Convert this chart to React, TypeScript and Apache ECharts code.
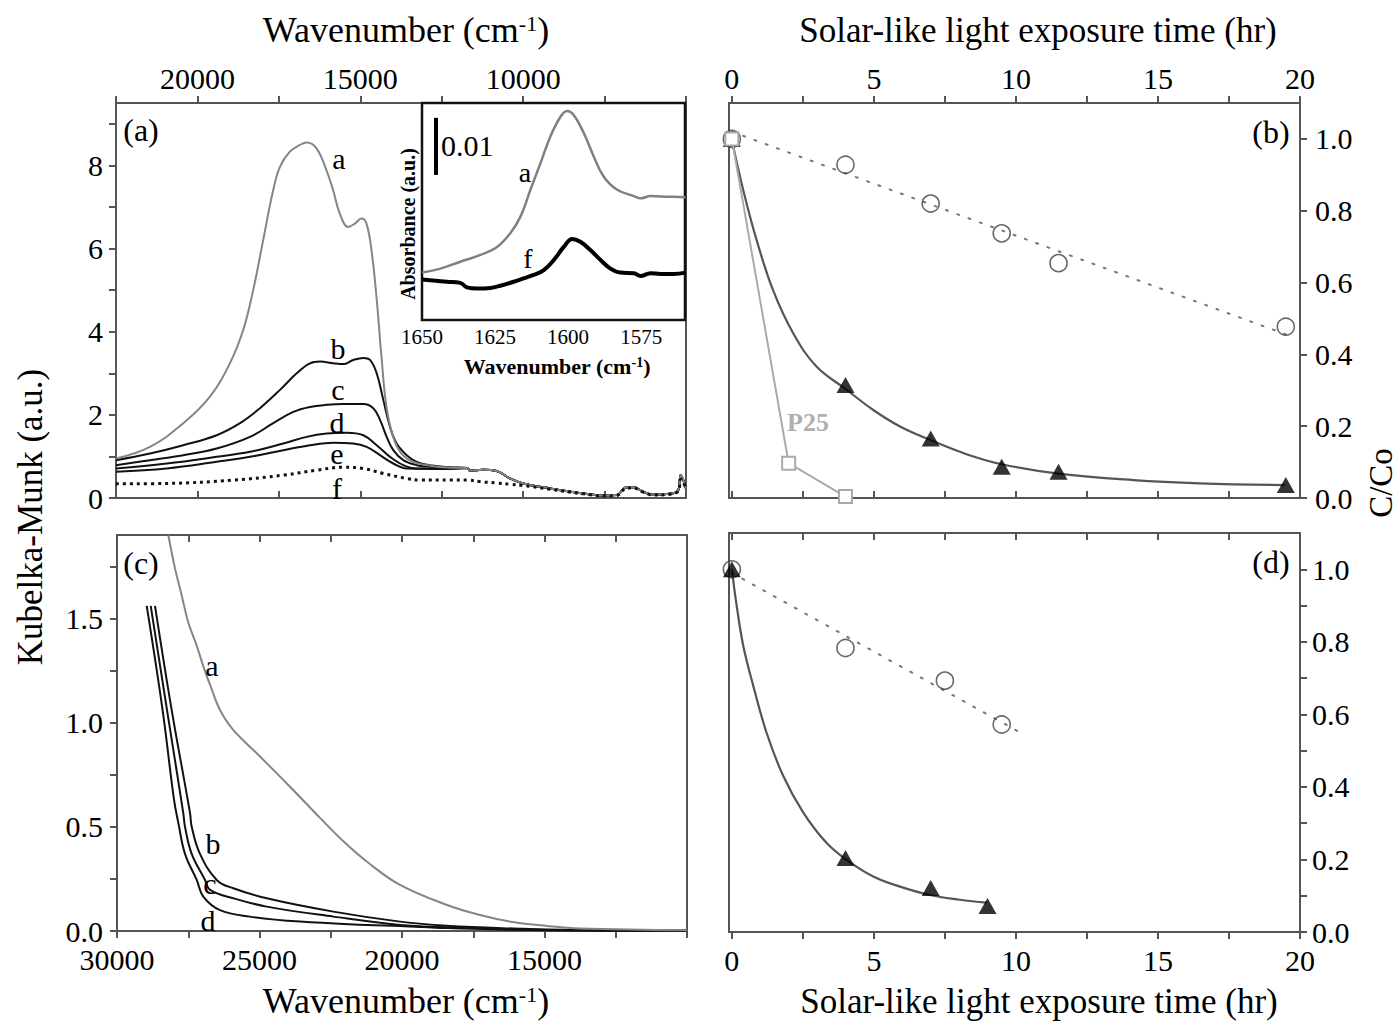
import React, { useEffect, useRef } from 'react';
import * as echarts from 'echarts';

const FONT = 'Liberation Serif';
const AX = '#555';

// ---------- Panel (a): Kubelka-Munk vs wavenumber (cm-1) ----------
const tailCommon = [[11700, 0.72], [11650, 0.66], [11224, 0.68], [10813, 0.65], [10404, 0.47], [9996, 0.35], [9176, 0.23], [8154, 0.11], [7488, 0.06], [7129, 0.07], [6822, 0.26], [6619, 0.26], [6312, 0.15], [6005, 0.08], [5492, 0.10], [5237, 0.19], [5164, 0.55], [5084, 0.43], [5000, 0.22]];
const specA = [[22500, 0.95], [21456, 1.23], [20434, 1.80], [19616, 2.44], [19003, 3.24], [18595, 4.04], [18288, 5.0], [17982, 6.2], [17675, 7.4], [17470, 7.96], [17163, 8.33], [16856, 8.49], [16650, 8.55], [16344, 8.41], [16037, 7.88], [15833, 7.40], [15629, 6.84], [15373, 6.52], [15168, 6.60], [14963, 6.72], [14810, 6.60], [14656, 5.96], [14503, 4.84], [14350, 3.40], [14196, 2.19], [13992, 1.47], [13736, 1.07], [13380, 0.87], [12800, 0.77], [12246, 0.73]];
const specB = [[22500, 0.91], [21456, 1.07], [20434, 1.27], [19409, 1.51], [18693, 1.80], [18079, 2.16], [17465, 2.60], [16953, 3.00], [16544, 3.24], [16237, 3.28], [15829, 3.24], [15522, 3.22], [15215, 3.32], [14908, 3.37], [14702, 3.32], [14497, 3.0], [14294, 2.36], [14088, 1.71], [13883, 1.31], [13576, 1.03], [13269, 0.87], [12800, 0.78], [12246, 0.74]];
const specC = [[22500, 0.79], [21456, 0.91], [20434, 1.03], [19409, 1.19], [18386, 1.47], [17671, 1.80], [17057, 2.07], [16544, 2.19], [16032, 2.24], [15522, 2.26], [14908, 2.26], [14601, 2.16], [14395, 1.88], [14190, 1.47], [13987, 1.15], [13680, 0.91], [13269, 0.79], [12800, 0.75], [12246, 0.73]];
const specD = [[22500, 0.71], [20944, 0.83], [19409, 0.99], [18386, 1.11], [17364, 1.31], [16646, 1.47], [16032, 1.55], [15417, 1.57], [14908, 1.51], [14497, 1.27], [14088, 0.99], [13680, 0.79], [13269, 0.71], [12246, 0.71]];
const specE = [[22500, 0.63], [20944, 0.71], [19409, 0.87], [18386, 0.99], [17364, 1.15], [16544, 1.27], [15829, 1.33], [15215, 1.31], [14804, 1.23], [14395, 1.03], [13987, 0.83], [13576, 0.71], [12246, 0.70]];
const specF = [[22500, 0.34], [20944, 0.35], [18899, 0.43], [17364, 0.55], [16339, 0.67], [15522, 0.74], [14908, 0.71], [14294, 0.59], [13576, 0.47], [13167, 0.43], [12246, 0.43], [11700, 0.43], [11300, 0.39], [10800, 0.36], [10404, 0.33], [9996, 0.30], [9176, 0.21], [8154, 0.10], [7488, 0.05], [7129, 0.06], [6822, 0.24], [6619, 0.24], [6312, 0.14], [6005, 0.07], [5492, 0.09], [5237, 0.17], [5164, 0.45], [5084, 0.38], [5000, 0.2]];

// ---------- Inset: absorbance (x1000) vs wavenumber ----------
const insetA = [[1650, 8.3], [1643.7, 9.0], [1636.9, 10.2], [1630, 11.4], [1624.3, 12.8], [1619.8, 15.2], [1616.3, 18.1], [1612.9, 22.8], [1609.5, 27.4], [1606.1, 32.1], [1602.6, 35.6], [1600.3, 36.6], [1598.1, 35.9], [1594.6, 32.7], [1591.2, 28.6], [1587.8, 25.1], [1583.2, 22.8], [1577.5, 21.7], [1575.2, 21.3], [1571.8, 21.7], [1566.1, 21.6], [1559.8, 21.5]];
const insetF = [[1650, 7.1], [1646, 6.9], [1641.4, 6.7], [1636.9, 6.5], [1634.6, 5.7], [1631.2, 5.5], [1626.6, 5.6], [1623.2, 6.0], [1618.6, 6.7], [1615.2, 7.3], [1611.8, 7.9], [1608.3, 8.75], [1604.9, 10.5], [1601.5, 12.8], [1598.6, 14.2], [1595.8, 13.7], [1592.4, 12.25], [1588.9, 10.5], [1585.5, 9.0], [1582.1, 8.3], [1577.5, 8.2], [1575.2, 7.7], [1571.8, 8.2], [1568.4, 8.05], [1563.8, 8.05], [1559.8, 8.3]];
const insetScaleBar = [[1645.2, 25.4], [1645.2, 35.4]];

// ---------- Panel (c): Kubelka-Munk vs wavenumber ----------
const specCa = [[28200, 1.9], [27965, 1.74], [27730, 1.61], [27498, 1.48], [27205, 1.37], [26970, 1.27], [26677, 1.16], [26386, 1.06], [25930, 0.966], [24982, 0.837], [23930, 0.692], [22877, 0.543], [22000, 0.423], [21227, 0.332], [20070, 0.221], [18420, 0.125], [17262, 0.077], [16104, 0.043], [14911, 0.024], [13753, 0.012], [10000, 0.004]];
const specCb = [[28667, 1.56], [28081, 1.06], [27438, 0.566], [27379, 0.50], [27088, 0.37], [26502, 0.245], [25919, 0.205], [24747, 0.157], [22410, 0.093], [20070, 0.045], [18431, 0.025], [16094, 0.012], [13753, 0.005], [10009, 0.002]];
const specCc = [[28817, 1.56], [28245, 1.06], [27674, 0.566], [27614, 0.50], [27379, 0.37], [26912, 0.245], [26737, 0.197], [25919, 0.157], [24747, 0.117], [22410, 0.069], [20070, 0.029], [18431, 0.018], [16094, 0.008], [13753, 0.003], [10009, 0.001]];
const specCd = [[28958, 1.56], [28400, 1.06], [28000, 0.63], [27849, 0.52], [27614, 0.37], [27203, 0.245], [26972, 0.165], [26386, 0.10], [25333, 0.069], [23579, 0.045], [21238, 0.029], [20070, 0.024], [18431, 0.014], [16094, 0.006], [13753, 0.002], [10009, 0.001]];

// ---------- Panel (b): C/Co vs time (hr) ----------
const circlesB = [[0, 1.0], [4, 0.928], [7, 0.82], [9.5, 0.737], [11.5, 0.654], [19.5, 0.477]];
const circFitB = [[0, 1.02], [19.7, 0.45]];
const trianglesB = [[0, 1.0], [4, 0.315], [7, 0.166], [9.5, 0.087], [11.5, 0.073], [19.5, 0.036]];
const triFitB = [[0, 0.997], [0.40, 0.858], [0.87, 0.719], [1.45, 0.579], [2.16, 0.459], [2.98, 0.366], [3.98, 0.305], [4.98, 0.245], [5.92, 0.199], [6.97, 0.162], [8.26, 0.122], [9.5, 0.094], [11.49, 0.068], [14.13, 0.050], [16.48, 0.041], [19.47, 0.036]];
const p25 = [[0, 1.0], [2, 0.097], [4, 0.004]];

// ---------- Panel (d): C/Co vs time (hr) ----------
const circlesD = [[0, 1.0], [4, 0.783], [7.5, 0.693], [9.5, 0.572]];
const circFitD = [[0, 0.99], [10.15, 0.55]];
const trianglesD = [[0, 1.0], [4, 0.204], [7, 0.121], [9, 0.072]];
const triFitD = [[0, 1.0], [0.17, 0.90], [0.40, 0.79], [0.75, 0.68], [1.22, 0.55], [1.81, 0.43], [2.51, 0.33], [3.33, 0.246], [4.04, 0.199], [4.98, 0.153], [5.92, 0.125], [6.97, 0.102], [8.03, 0.089], [8.97, 0.081]];

// ---------- Tick values ----------
const wnTopTicks = [22500, 20000, 17500, 15000, 12500, 10000, 7500, 5000];
const wnTopLabels = [20000, 15000, 10000];
const kmATicks = [0, 1, 2, 3, 4, 5, 6, 7, 8, 9];
const kmALabels = [0, 2, 4, 6, 8];
const wnBotTicks = [30000, 27500, 25000, 22500, 20000, 17500, 15000, 12500, 10000];
const wnBotLabels = [30000, 25000, 20000, 15000];
const kmCTicks = [0, 0.25, 0.5, 0.75, 1, 1.25, 1.5, 1.75];
const kmCLabels = [0, 0.5, 1, 1.5];
const timeTicks = [0, 2.5, 5, 7.5, 10, 12.5, 15, 17.5, 20];
const timeLabels = [0, 5, 10, 15, 20];
const ccTicksB = [0, 0.2, 0.4, 0.6, 0.8, 1.0];
const ccTicksD = [0, 0.1, 0.2, 0.3, 0.4, 0.5, 0.6, 0.7, 0.8, 0.9, 1.0];
const ccLabels = [0, 0.2, 0.4, 0.6, 0.8, 1.0];
const insetTicks = [1650, 1637.5, 1625, 1612.5, 1600, 1587.5, 1575, 1562.5];
const insetLabels = [1650, 1625, 1600, 1575];

type AxOpt = {
  grid: number; pos: string; min: number; max: number; inverse?: boolean;
  ticks?: number[]; inside?: boolean; labels?: number[]; fmt?: (v: number) => string;
  margin?: number; line?: boolean; color?: string; tickLen?: number; fontSize?: number; lineWidth?: number;
};

function axis(o: AxOpt) {
  const color = o.color || AX;
  return {
    type: 'value', gridIndex: o.grid, position: o.pos, min: o.min, max: o.max, inverse: !!o.inverse,
    splitLine: { show: false },
    axisLine: { show: o.line !== false, onZero: false, lineStyle: { color, width: o.lineWidth || 2 } },
    axisTick: o.ticks
      ? { show: true, inside: !!o.inside, length: o.tickLen || 7, customValues: o.ticks, lineStyle: { color, width: 2 } }
      : { show: false },
    axisLabel: o.labels
      ? { show: true, customValues: o.labels, margin: o.margin ?? 10, color: '#000', fontSize: o.fontSize || 30, fontFamily: FONT, formatter: o.fmt || ((v: number) => String(v)) }
      : { show: false },
  };
}

const fix1 = (v: number) => v.toFixed(1);

function txt(x: number, y: number, text: string, fontSize: number, extra: any = {}, rotation = 0) {
  return {
    type: 'text', x, y, z: 100, rotation,
    style: { text, fontSize, fontFamily: FONT, fill: '#000', align: 'center', verticalAlign: 'middle', ...extra },
  };
}

function richTitle(x: number, y: number, main: number, sup: number, bold = false) {
  const w = bold ? 'bold' : 'normal';
  return {
    type: 'text', x, y, z: 100,
    style: {
      text: '{m|Wavenumber (cm}{s|-1}{m|)}', align: 'center', verticalAlign: 'middle',
      rich: {
        m: { fontSize: main, fontFamily: FONT, fontWeight: w, fill: '#000', lineHeight: main },
        s: { fontSize: sup, fontFamily: FONT, fontWeight: w, fill: '#000', lineHeight: sup, verticalAlign: 'top' },
      },
    },
  };
}

function lineS(xi: number, data: number[][], color: string, width: number, extra: any = {}) {
  return {
    type: 'line', xAxisIndex: xi, yAxisIndex: xi, data, showSymbol: false, symbol: 'none',
    smooth: 0.4, lineStyle: { color, width }, z: 2, ...extra,
  };
}

export default function App() {
  const ref = useRef<HTMLDivElement>(null);
  useEffect(() => {
    document.body.style.margin = '0';
    const chart = echarts.init(ref.current!, undefined, { renderer: 'svg' });
    const option: any = {
      animation: false,
      backgroundColor: '#fff',
      textStyle: { fontFamily: FONT },
      grid: [
        { left: 116, top: 103, width: 570, height: 395 },
        { left: 117, top: 535, width: 570, height: 396 },
        { left: 729, top: 103, width: 571, height: 395 },
        { left: 729, top: 533, width: 571, height: 399 },
        { left: 422, top: 103, width: 263, height: 217, show: true, backgroundColor: '#fff', borderColor: '#111', borderWidth: 2.5, z: 3 },
      ],
      xAxis: [
        axis({ grid: 0, pos: 'top', min: 5000, max: 22500, inverse: true, ticks: wnTopTicks, labels: wnTopLabels, margin: 10 }),
        axis({ grid: 0, pos: 'bottom', min: 5000, max: 22500, inverse: true, ticks: wnTopTicks, inside: true }),
        axis({ grid: 1, pos: 'bottom', min: 10000, max: 30000, inverse: true, ticks: wnBotTicks, labels: wnBotLabels, margin: 13 }),
        axis({ grid: 1, pos: 'top', min: 10000, max: 30000, inverse: true, ticks: wnBotTicks, inside: true }),
        axis({ grid: 2, pos: 'top', min: -0.1, max: 20, ticks: timeTicks, labels: timeLabels, margin: 10 }),
        axis({ grid: 2, pos: 'bottom', min: -0.1, max: 20, ticks: timeTicks, inside: true }),
        axis({ grid: 3, pos: 'bottom', min: -0.1, max: 20, ticks: timeTicks, labels: timeLabels, margin: 13 }),
        axis({ grid: 3, pos: 'top', min: -0.1, max: 20, ticks: timeTicks, inside: true }),
        axis({ grid: 4, pos: 'bottom', min: 1560, max: 1650, inverse: true, ticks: insetTicks, inside: true, labels: insetLabels, margin: 6, line: false, color: '#111', tickLen: 6, fontSize: 21 }),
      ],
      yAxis: [
        axis({ grid: 0, pos: 'left', min: 0, max: 9.5, ticks: kmATicks, labels: kmALabels, margin: 13 }),
        axis({ grid: 0, pos: 'right', min: 0, max: 9.5 }),
        axis({ grid: 1, pos: 'left', min: 0, max: 1.9, ticks: kmCTicks, labels: kmCLabels, margin: 14, fmt: fix1 }),
        axis({ grid: 1, pos: 'right', min: 0, max: 1.9 }),
        axis({ grid: 2, pos: 'right', min: 0, max: 1.1, ticks: ccTicksB, labels: ccLabels, margin: 15, fmt: fix1 }),
        axis({ grid: 2, pos: 'left', min: 0, max: 1.1 }),
        axis({ grid: 3, pos: 'right', min: 0, max: 1.1, ticks: ccTicksD, labels: ccLabels, margin: 12, fmt: fix1 }),
        axis({ grid: 3, pos: 'left', min: 0, max: 1.1 }),
        axis({ grid: 4, pos: 'left', min: 0, max: 38, line: false }),
      ],
      series: [
        // (a)
        lineS(0, specE.concat(tailCommon), '#111', 2),
        lineS(0, specD.concat(tailCommon), '#111', 2),
        lineS(0, specC.concat(tailCommon), '#111', 2),
        lineS(0, specB.concat(tailCommon), '#111', 2),
        lineS(0, specA.concat(tailCommon), '#858585', 2),
        lineS(0, specF, '#111', 3, { lineStyle: { color: '#111', width: 3, type: [3, 4] } }),
        // inset
        lineS(8, insetA, '#808080', 2.5, { z: 5 }),
        lineS(8, insetF, '#000', 4, { z: 5 }),
        lineS(8, insetScaleBar, '#000', 4, { smooth: false, z: 5 }),
        // (c)
        lineS(2, specCd, '#111', 2),
        lineS(2, specCc, '#111', 2),
        lineS(2, specCb, '#111', 2),
        lineS(2, specCa, '#858585', 2),
        // (b)
        lineS(4, circFitB, '#777', 2, { smooth: false, lineStyle: { color: '#777', width: 2, type: [2, 10], cap: 'round' } }),
        lineS(4, triFitB, '#555', 2.2),
        { type: 'scatter', xAxisIndex: 4, yAxisIndex: 4, data: circlesB, symbol: 'circle', symbolSize: 17, itemStyle: { color: 'rgba(0,0,0,0)', borderColor: '#444', borderWidth: 1.6 }, z: 4 },
        { type: 'scatter', xAxisIndex: 4, yAxisIndex: 4, data: trianglesB, symbol: 'triangle', symbolSize: [18, 16], itemStyle: { color: '#000' }, z: 4 },
        { type: 'line', xAxisIndex: 4, yAxisIndex: 4, data: p25, symbol: 'rect', symbolSize: 13, showSymbol: true, lineStyle: { color: '#aaa', width: 2 }, itemStyle: { color: '#fff', borderColor: '#aaa', borderWidth: 2 }, z: 5 },
        // (d)
        lineS(6, circFitD, '#777', 2, { smooth: false, lineStyle: { color: '#777', width: 2, type: [2, 10], cap: 'round' } }),
        lineS(6, triFitD, '#555', 2.2),
        { type: 'scatter', xAxisIndex: 6, yAxisIndex: 6, data: circlesD, symbol: 'circle', symbolSize: 17, itemStyle: { color: 'rgba(0,0,0,0)', borderColor: '#444', borderWidth: 1.6 }, z: 4 },
        { type: 'scatter', xAxisIndex: 6, yAxisIndex: 6, data: trianglesD, symbol: 'triangle', symbolSize: [18, 16], itemStyle: { color: '#000' }, z: 4 },
      ],
      graphic: [
        richTitle(406, 30, 36, 22),
        richTitle(406, 1001, 36, 22),
        txt(1038, 30, 'Solar-like light exposure time (hr)', 35),
        txt(1039, 1001, 'Solar-like light exposure time (hr)', 35),
        txt(30, 517, 'Kubelka-Munk (a.u.)', 35, {}, Math.PI / 2),
        txt(1381, 483, 'C/Co', 33, {}, Math.PI / 2),
        txt(141, 130, '(a)', 32),
        txt(141, 563, '(c)', 32),
        txt(1271, 132, '(b)', 32),
        txt(1271, 562, '(d)', 32),
        txt(339, 158, 'a', 30),
        txt(338, 348, 'b', 30),
        txt(338, 389, 'c', 30),
        txt(337, 422, 'd', 30),
        txt(337, 453, 'e', 30),
        txt(337, 488, 'f', 30),
        txt(212, 665, 'a', 30),
        txt(213, 843, 'b', 30),
        txt(210, 883, 'c', 30),
        txt(208, 920, 'd', 30),
        txt(808, 422, 'P25', 26, { fill: '#b0b0b0', fontWeight: 'bold' }),
        txt(525, 172, 'a', 28),
        txt(528, 258, 'f', 28),
        txt(441, 145, '0.01', 30, { align: 'left' }),
        txt(408, 224, 'Absorbance (a.u.)', 20, { fontWeight: 'bold' }, Math.PI / 2),
        richTitle(557, 366, 22, 14, true),
      ],
    };
    chart.setOption(option);
    return () => chart.dispose();
  }, []);
  return <div ref={ref} style={{ width: 1399, height: 1021 }} />;
}
